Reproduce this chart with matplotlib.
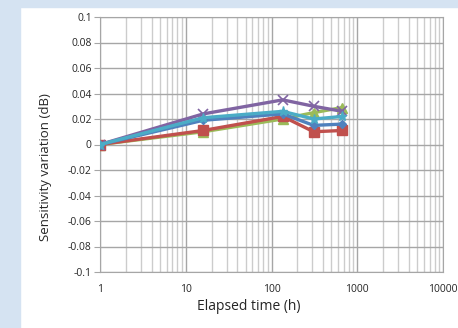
import numpy as np
import matplotlib.pyplot as plt
from matplotlib.ticker import LogLocator, FixedLocator, NullFormatter

# Elapsed time points (h)
hours = [1, 16, 135, 310, 670]

# Sensitivity variation (dB) per sample
s_red = [0.0, 0.011, 0.022, 0.010, 0.011]
s_blue = [0.0, 0.019, 0.024, 0.015, 0.016]
s_green = [0.0, 0.010, 0.020, 0.025, 0.029]
s_purple = [0.0, 0.024, 0.035, 0.030, 0.026]
s_cyan = [0.0, 0.021, 0.026, 0.020, 0.022]

x_ticks = [1, 10, 100, 1000, 10000]
x_labels = ['1', '10', '100', '1000', '10000']
y_ticks = np.round(np.arange(-0.1, 0.1001, 0.02), 2)
y_labels = ['-0.1', '-0.08', '-0.06', '-0.04', '-0.02', '0',
            '0.02', '0.04', '0.06', '0.08', '0.1']

plt.rcParams['font.family'] = ['Open Sans', 'DejaVu Sans']

fig = plt.figure(figsize=(4.58, 3.28), dpi=100)
fig.patch.set_facecolor('white')
# light blue page border (left and top)
fig.patches.append(plt.Rectangle((0, 0), 20 / 458, 1, transform=fig.transFigure,
                                 color='#d5e3f2', zorder=0))
fig.patches.append(plt.Rectangle((0, 1 - 7 / 328), 1, 7 / 328, transform=fig.transFigure,
                                 color='#d5e3f2', zorder=0))

ax = fig.add_axes([100 / 458, 1 - 272 / 328, 343 / 458, 255 / 328])
ax.set_xscale('log')
ax.set_xlim(1, 10000)
ax.set_ylim(-0.1, 0.1)

ax.xaxis.set_major_locator(FixedLocator(x_ticks))
ax.set_xticklabels(x_labels)
ax.xaxis.set_minor_locator(LogLocator(base=10, subs=np.arange(2, 10)))
ax.xaxis.set_minor_formatter(NullFormatter())
ax.set_yticks(y_ticks)
ax.set_yticklabels(y_labels)

ax.grid(True, which='major', color='#a6a6a6', lw=1.0)
ax.grid(True, which='minor', axis='x', color='#cccccc', lw=1.0)
ax.set_axisbelow(True)
for sp in ax.spines.values():
    sp.set_color('#a6a6a6')
ax.tick_params(axis='x', which='both', length=0, labelsize=7.5, pad=9, labelcolor='#262626')
ax.tick_params(axis='y', length=4, color='#a6a6a6', labelsize=7.5, pad=2,
               direction='out', labelcolor='#262626')

lw = 2.4
ax.plot(hours, s_green, color='#9bbb59', lw=lw, marker='^', ms=6.5, zorder=3)
ax.plot(hours, s_red, color='#c0504d', lw=lw, marker='s', ms=6.5, zorder=3)
ax.plot(hours, s_blue, color='#4f81bd', lw=lw, marker='D', ms=4.5, zorder=4)
ax.plot(hours, s_purple, color='#8064a2', lw=lw, marker='x', ms=6.5, mew=1.2, zorder=4)
ax.plot(hours, s_cyan, color='#4bacc6', lw=lw, marker='*', ms=6.5, zorder=5)

ax.set_xlabel('Elapsed time (h)', fontsize=10, color='#262626')
ax.set_ylabel('Sensitivity variation (dB)', fontsize=9.5, color='#262626')
ax.xaxis.set_label_coords(0.434, -0.105)
ax.yaxis.set_label_coords(-0.14, 0.41)

fig.savefig('out.png', dpi=100)
